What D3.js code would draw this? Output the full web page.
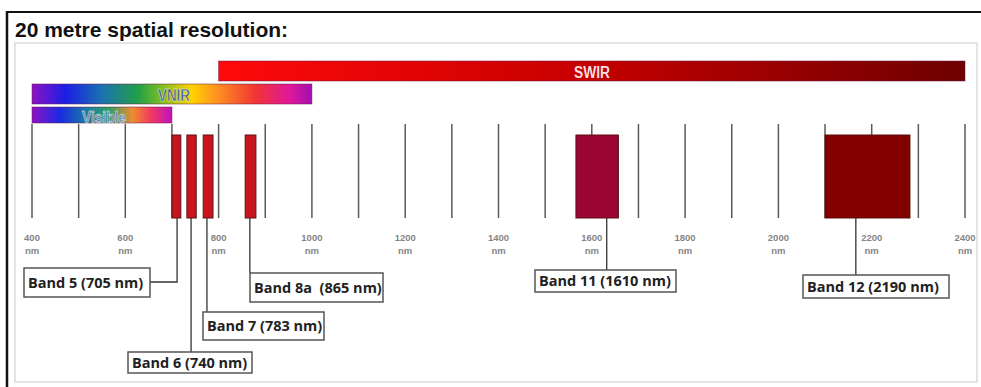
<!DOCTYPE html>
<html>
<head>
<meta charset="utf-8">
<script src="https://cdn.jsdelivr.net/npm/d3@7"></script>
<style>
  body { margin: 0; background: #fff; }
  svg { display: block; }
  .tick-label { font-family: "Liberation Sans", Arial, sans-serif; font-size: 9.5px; font-weight: bold; fill: #858585; }
  .band-label { font-family: "Open Sans", sans-serif; font-size: 14.5px; font-weight: 700; fill: #222; }
  .region-label { font-family: "Liberation Sans", Arial, sans-serif; font-weight: bold; font-size: 16px; }
</style>
</head>
<body>
<svg id="chart"></svg>
<script>
// spectral regions (nm)
const regionNames = ["SWIR", "VNIR", "Visible"];
const regionStart = [800, 400, 400];
const regionEnd = [2400, 1000, 700];

// 20 m bands: label, drawn extent (nm), fill
const bandNames = ["Band 5 (705 nm)", "Band 6 (740 nm)", "Band 7 (783 nm)", "Band 8a  (865 nm)", "Band 11 (1610 nm)", "Band 12 (2190 nm)"];
const bandLo = [700, 732, 767, 857, 1566, 2100];
const bandHi = [719, 752, 788, 880, 1657, 2282];
const bandColors = ["#c8141e", "#c8141e", "#c8141e", "#c8141e", "#9c0434", "#820000"];

// axis
const gridTicks = d3.range(400, 2401, 100);
const labelTicks = d3.range(400, 2401, 200);

// leader line position (nm) and callout box placement
const leaderNm = [711, 741, 775, 867, 1632, 2166];
const calloutLayout = [
  {x: 24, y: 268, w: 126, h: 29, elbowY: 282},
  {x: 128, y: 352, w: 124, h: 21},
  {x: 203, y: 312, w: 121, h: 28},
  {x: 250, y: 273, w: 133, h: 29},
  {x: 535, y: 270, w: 141, h: 22},
  {x: 803, y: 275, w: 146, h: 23}
];

const width = 981, height = 387;
const svg = d3.select("#chart").attr("width", width).attr("height", height);

const x = d3.scaleLinear().domain([400, 2400]).range([32, 965]);

// gradients
const defs = svg.append("defs");
const gradients = {
  SWIR: [[0, "#ff0a0a"], [0.45, "#cc0000"], [1, "#6e0000"]],
  VNIR: [[0, "#8e12c4"], [0.12, "#1a1ee6"], [0.25, "#1a72b0"], [0.38, "#22a048"], [0.47, "#86c020"],
         [0.57, "#ffd200"], [0.66, "#ff9222"], [0.8, "#f03434"], [0.92, "#e0189a"], [1, "#a010b0"]],
  Visible: [[0, "#8e12c4"], [0.2, "#1a2ae2"], [0.4, "#1a80a0"], [0.55, "#30a060"],
            [0.72, "#f08a30"], [0.85, "#f03a60"], [1, "#c010c0"]]
};
Object.keys(gradients).forEach(function(k) {
  const lg = defs.append("linearGradient").attr("id", "grad-" + k).attr("x1", "0%").attr("x2", "100%");
  lg.selectAll("stop").data(gradients[k]).enter().append("stop")
    .attr("offset", d => d[0] * 100 + "%").attr("stop-color", d => d[1]);
});

// frame
svg.append("line").attr("x1", 7).attr("x2", width).attr("y1", 12).attr("y2", 12)
  .attr("stroke", "#111").attr("stroke-width", 2);
svg.append("line").attr("x1", 7).attr("x2", 7).attr("y1", 11).attr("y2", height)
  .attr("stroke", "#111").attr("stroke-width", 2.5);
svg.append("rect").attr("x", 15).attr("y", 43).attr("width", 962).attr("height", 339)
  .attr("fill", "none").attr("stroke", "#dcdcdc").attr("stroke-width", 1.5);

svg.append("text").attr("x", 15).attr("y", 37)
  .style("font-family", "'Liberation Sans', Arial, sans-serif").style("font-weight", "bold").style("font-size", "21px")
  .attr("fill", "#111").text("20 metre spatial resolution:");

// grid lines (behind bands)
svg.append("g").selectAll("line").data(gridTicks).enter().append("line")
  .attr("x1", d => x(d)).attr("x2", d => x(d)).attr("y1", 124).attr("y2", 218)
  .attr("stroke", "#5a5a5a").attr("stroke-width", 1.5);

// tick labels
const tl = svg.append("g").selectAll("text").data(labelTicks).enter().append("text")
  .attr("class", "tick-label").attr("text-anchor", "middle").attr("x", d => x(d));
tl.append("tspan").attr("x", d => x(d)).attr("y", 241).text(d => d);
tl.append("tspan").attr("x", d => x(d)).attr("y", 254).text("nm");

// region bars
const regionY = [61, 84, 107], regionH = [20, 20, 16];
const regions = regionNames.map((n, i) => ({name: n, lo: regionStart[i], hi: regionEnd[i], y: regionY[i], h: regionH[i]}));
svg.append("g").selectAll("rect").data(regions).enter().append("rect")
  .attr("x", d => x(d.lo)).attr("width", d => x(d.hi) - x(d.lo))
  .attr("y", d => d.y).attr("height", d => d.h)
  .attr("fill", d => "url(#grad-" + d.name + ")")
  .attr("stroke", "#6a1a40").attr("stroke-opacity", 0.5).attr("stroke-width", 1);

const labelFill = {SWIR: "#f7dcdc", VNIR: "#3b5674", Visible: "#5f7fa0"};
const labelCenter = {SWIR: 592, VNIR: 174, Visible: 104};
const labelWidth = {SWIR: 36, VNIR: 32, Visible: 44};
svg.append("g").selectAll("text").data(regions).enter().append("text")
  .attr("class", "region-label").attr("text-anchor", "middle")
  .attr("x", d => labelCenter[d.name])
  .attr("y", d => d.y + d.h - 3 + (d.name === "Visible" ? 3 : 0))
  .attr("textLength", d => labelWidth[d.name]).attr("lengthAdjust", "spacingAndGlyphs")
  .attr("fill", d => labelFill[d.name])
  .attr("stroke", d => d.name === "SWIR" ? "none" : "#e8eef4").attr("stroke-width", 0.5)
  .text(d => d.name);

// bands
const bands = bandNames.map((n, i) => ({name: n, lo: bandLo[i], hi: bandHi[i], color: bandColors[i], lead: leaderNm[i], box: calloutLayout[i]}));
svg.append("g").selectAll("rect").data(bands).enter().append("rect")
  .attr("x", d => x(d.lo)).attr("width", d => x(d.hi) - x(d.lo))
  .attr("y", 135).attr("height", 83)
  .attr("fill", d => d.color).attr("stroke", "#5a1010").attr("stroke-width", 1);

// callouts
const co = svg.append("g").selectAll("g").data(bands).enter().append("g");
co.append("path")
  .attr("d", function(d) {
    const lx = x(d.lead);
    if (d.box.elbowY) return `M${lx},218V${d.box.elbowY}H${d.box.x + d.box.w}`;
    return `M${lx},218V${d.box.y}`;
  })
  .attr("fill", "none").attr("stroke", "#333").attr("stroke-width", 1.3);
co.append("rect")
  .attr("x", d => d.box.x).attr("y", d => d.box.y).attr("width", d => d.box.w).attr("height", d => d.box.h)
  .attr("fill", "#fff").attr("stroke", "#555").attr("stroke-width", 1.5);
co.append("text").attr("class", "band-label")
  .attr("x", d => d.box.x + 4).attr("y", d => d.box.y + d.box.h / 2 + 5)
  .style("white-space", "pre")
  .text(d => d.name);
</script>
</body>
</html>
